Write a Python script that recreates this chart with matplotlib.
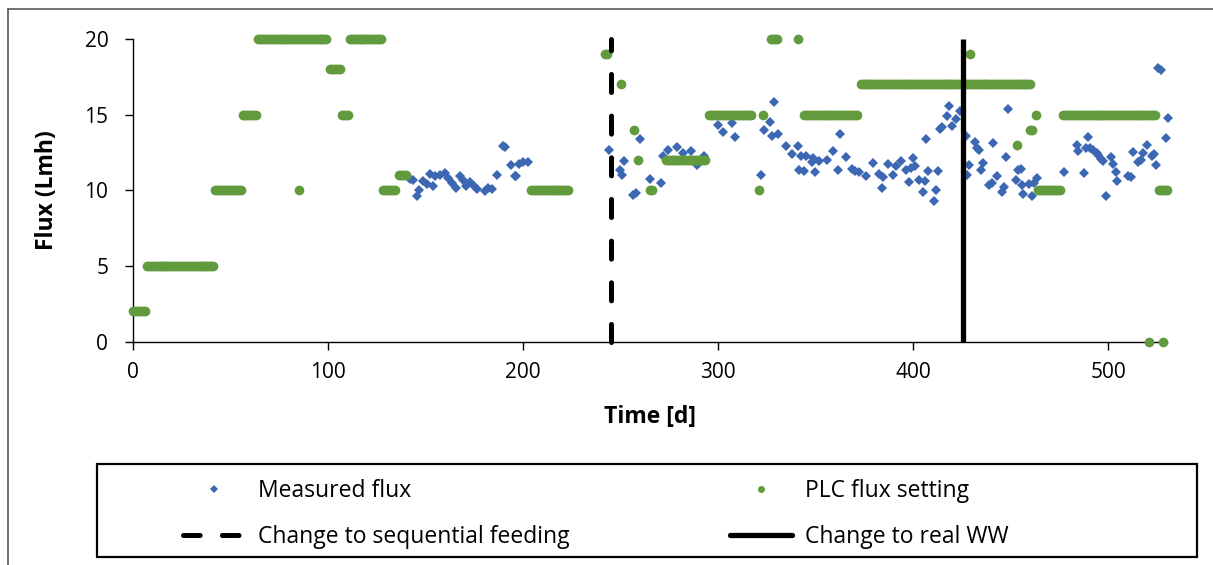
import numpy as np
import matplotlib
matplotlib.use("Agg")
import matplotlib.pyplot as plt
from matplotlib.lines import Line2D
from matplotlib.patches import Rectangle

plt.rcParams['font.family'] = ['Open Sans', 'DejaVu Sans']
plt.rcParams['lines.scale_dashes'] = False

# PLC flux setpoint, stored as runs of constant daily setting
plc_start = [0, 7, 42, 56, 64, 85, 101, 107, 111, 128, 136, 204, 242, 250, 257, 259, 265,
             273, 295, 321, 323, 327, 341, 344, 373, 429, 453, 460, 463, 464, 477, 521, 526, 528]
plc_end = [6, 41, 55, 63, 99, 85, 106, 110, 127, 134, 140, 223, 243, 250, 257, 259, 266,
           293, 317, 321, 323, 330, 341, 371, 460, 429, 453, 461, 463, 475, 524, 521, 530, 528]
plc_value = [2, 5, 10, 15, 20, 10, 18, 15, 20, 10, 11, 10, 19, 17, 14, 12, 10,
             12, 15, 10, 15, 20, 20, 15, 17, 19, 13, 14, 15, 10, 15, 0, 10, 0]

# Measured permeate flux
meas_day = [142, 143.6, 145.3, 146.5, 148.4, 150.4, 152.2, 153.8, 154.7, 157.3, 159.8, 161.5,
            163.3, 165.5, 167.5, 168.9, 170.6, 172.7, 174.7, 176.4, 180.4, 182, 183.8, 186.7,
            189.7, 190.6, 193.7, 195.7, 196.3, 197.9, 200, 202.6,
            244.1, 249.6, 250.8, 251.6, 256.4, 257.8, 259.8, 265, 270.6, 271.8, 274, 278.7,
            282, 285.8, 288.9, 292.8, 299.7, 302.6, 306.9, 308.6, 321.7, 323.6, 326.5, 327.7,
            328.6, 330.8, 334.7, 337.6, 340.7, 341.5, 342.4, 343.8, 344.8, 347.9, 348.7, 349.6,
            351.8, 355.9, 358.7, 361.5, 362.4, 365.6, 368.4, 370.1, 372.3, 375.7, 379.5, 382.6,
            383.8, 384.6, 386.9, 389.7, 391, 393.5, 396.3, 397.8, 398.8, 400, 400.9, 403.1,
            404.8, 406, 406.5, 407.7, 410.8, 411.6, 412.5, 413.7, 414.6, 417.4, 418.5, 419.7,
            421.9, 424, 427, 427.7, 428.7, 431.6, 432.8, 433.8, 434.7, 435.9, 439, 440.2,
            440.7, 442.8, 445.6, 446.5, 447.5, 448.7, 452.5, 453.8, 455.1, 455.6, 456.4, 459.3,
            461, 461.9, 463.6, 477.4, 483.8, 484.6, 487.5, 488.6, 489.6, 490.6, 492, 494.1,
            494.9, 496.1, 497.1, 498.7, 501.4, 502.6, 503.8, 504.6, 510.3, 511.5, 512.5, 515.4,
            516.8, 517.9, 519.7, 522.3, 523.4, 524.5, 525.6, 526.9, 529.6, 530.5]
meas_flux = [10.74, 10.65, 9.64, 9.99, 10.58, 10.41, 11.09, 10.25, 10.96, 11.0, 11.14, 10.8,
             10.48, 10.15, 10.96, 10.69, 10.3, 10.52, 10.3, 10.08, 9.92, 10.15, 10.08, 11.03,
             12.9, 12.84, 11.64, 10.96, 10.91, 11.75, 11.84, 11.84,
             12.64, 11.31, 11.0, 11.91, 9.66, 9.81, 13.39, 10.74, 10.48, 12.24, 12.68, 12.84,
             12.46, 12.62, 11.64, 12.24, 14.29, 13.83, 14.45, 13.52, 11.0, 13.96, 14.49, 13.61,
             15.84, 13.72, 12.9, 12.4, 12.9, 11.36, 12.24, 11.25, 12.24, 11.84, 12.13, 11.18,
             11.91, 12.02, 12.62, 11.31, 13.74, 12.2, 11.42, 11.25, 11.18, 10.91, 11.8, 11.09,
             10.15, 10.87, 11.75, 11.03, 11.58, 11.91, 11.31, 10.52, 11.47, 12.13, 11.62, 10.7,
             9.86, 10.58, 13.41, 11.25, 9.26, 9.99, 11.29, 14.05, 14.18, 14.93, 15.6, 14.27,
             14.74, 15.22, 13.56, 10.98, 11.64, 13.17, 12.79, 12.68, 11.31, 11.8, 10.36, 10.48,
             13.12, 10.91, 9.88, 10.19, 12.2, 15.38, 10.7, 11.36, 11.42, 10.32, 9.75, 10.41,
             9.59, 10.48, 10.81, 11.18, 13.01, 12.62, 11.14, 12.79, 13.52, 12.79, 12.64, 12.46,
             12.35, 12.07, 11.91, 9.64, 12.17, 11.75, 11.18, 10.58, 10.96, 10.87, 12.5, 11.84,
             11.97, 12.46, 12.97, 12.28, 12.4, 11.64, 18.09, 17.98, 13.46, 14.76]

# Operational events
sequential_feeding_day = 245
real_ww_day = 425.6

x_ticks = [0, 100, 200, 300, 400, 500]
y_ticks = [0, 5, 10, 15, 20]

BLUE = "#3C67B3"
GREEN = "#629A3E"

# expand setpoint runs into one point per day
plc_day, plc_flux = [], []
for s, e, v in zip(plc_start, plc_end, plc_value):
    days = np.arange(s, e + 1)
    plc_day.extend(days)
    plc_flux.extend([v] * len(days))

fig = plt.figure(figsize=(12.13, 5.65), dpi=100)
ax = fig.add_axes([133.3 / 1213, 1 - 341.5 / 565, (1166.8 - 133.3) / 1213, (341.5 - 39) / 565])

ax.plot(meas_day, meas_flux, linestyle='none', marker='D', markersize=5,
        markeredgewidth=0, color=BLUE, clip_on=False, zorder=3)
ax.plot(plc_day, plc_flux, linestyle='none', marker='o', markersize=7,
        markeredgewidth=0, color=GREEN, clip_on=False, zorder=4)

ax.plot([sequential_feeding_day] * 2, [0, 20], color='black', lw=3.6,
        dashes=(13, 17), dash_capstyle='round', zorder=5, clip_on=False)
ax.plot([real_ww_day] * 2, [0, 20], color='black', lw=3.8, solid_capstyle='butt',
        zorder=5, clip_on=False)

ax.set_xlim(0, 530)
ax.set_ylim(0, 20)
ax.set_xticks(x_ticks)
ax.set_yticks(y_ticks)
for sp in ['top', 'right']:
    ax.spines[sp].set_visible(False)
for sp in ['left', 'bottom']:
    ax.spines[sp].set_linewidth(1.0)
    ax.spines[sp].set_color('black')
ax.tick_params(axis='both', direction='out', length=6, width=1.0, labelsize=15,
               colors='black', pad=9)
ax.tick_params(axis='y', pad=12)

ax.set_xlabel("Time [d]", fontsize=16.5, fontweight='bold')
ax.set_ylabel("Flux (Lmh)", fontsize=16.5, fontweight='bold')
ax.xaxis.set_label_coords(0.5, -(417 - 341.5) / 302.5)
ax.xaxis.label.set_va('center')
ax.yaxis.set_label_coords((47 - 133.3) / 1033.5, 0.5)
ax.yaxis.label.set_va('center')

# legend box
fig.patches.append(Rectangle((97 / 1213, 1 - 557 / 565), 1100 / 1213, 93 / 565,
                             transform=fig.transFigure, fill=False, edgecolor='black',
                             linewidth=1.6, zorder=1))

h_meas = Line2D([], [], linestyle='none', marker='D', markersize=4, markeredgewidth=0, color=BLUE)
h_plc = Line2D([], [], linestyle='none', marker='o', markersize=5, markeredgewidth=0, color=GREEN)
h_seq = Line2D([], [], color='black', lw=3.6, dashes=(12, 16), dash_capstyle='round')
h_ww = Line2D([], [], color='black', lw=3.8, solid_capstyle='round')

leg_kw = dict(frameon=False, fontsize=16.5, handlelength=2.7, handletextpad=0.57,
              labelspacing=0.97, borderpad=0, borderaxespad=0, loc='center left')
leg1 = fig.legend([h_meas, h_seq], ["Measured flux", "Change to sequential feeding"],
                  bbox_to_anchor=(183 / 1213, 1 - 514 / 565), **leg_kw)
leg2 = fig.legend([h_plc, h_ww], ["PLC flux setting", "Change to real WW"],
                  bbox_to_anchor=(730 / 1213, 1 - 514 / 565), **leg_kw)

# chart-area border along the top and left edges
fig.add_artist(Line2D([8 / 1213, 8 / 1213], [0, 1 - 9 / 565], transform=fig.transFigure,
                      color='#595959', lw=1.2))
fig.add_artist(Line2D([8 / 1213, 1], [1 - 9 / 565, 1 - 9 / 565], transform=fig.transFigure,
                      color='#595959', lw=1.2))

fig.savefig("out.png", dpi=100)
